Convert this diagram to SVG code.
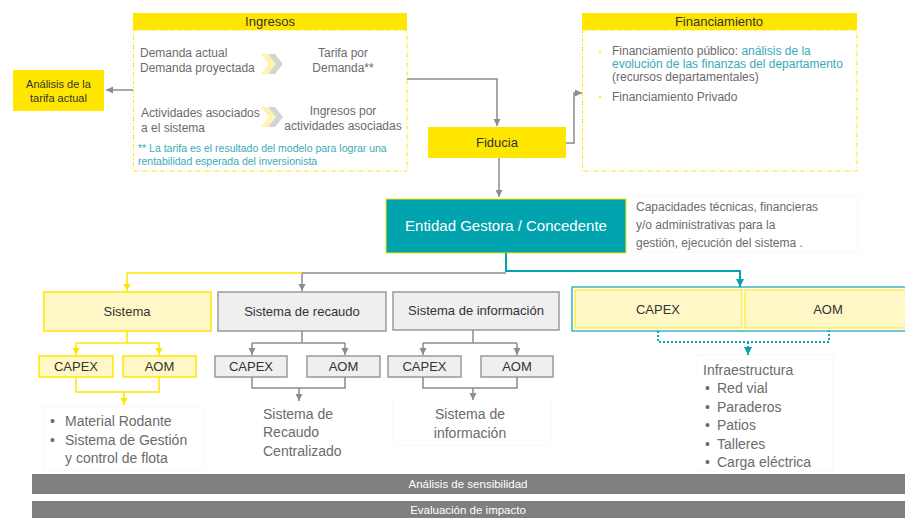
<svg xmlns="http://www.w3.org/2000/svg" width="905" height="518" viewBox="0 0 905 518">
<style>
text{font-family:"Liberation Sans",Arial,sans-serif;}
.g{fill:#6b6b6b;font-size:12px;}
.dk{fill:#333;}
.h{fill:#333;font-size:13px;text-anchor:middle;}
.note{fill:#3aaab8;font-size:10.5px;}
.big{fill:#6b6b6b;font-size:14px;}
.box-y{fill:#fff8c6;stroke:#ffe600;stroke-width:1.5;}
.box-g{fill:#efefef;stroke:#999;stroke-width:1.5;}
.sm{fill:#333;font-size:13px;text-anchor:middle;}
.cg{fill:none;stroke:#8c8c8c;stroke-width:1.5;}
.cy{fill:none;stroke:#ffe600;stroke-width:1.5;}
.ct{fill:none;stroke:#0aa0ad;stroke-width:2;}
.faint{fill:#fff;stroke:#f8f8f8;stroke-width:1;}
.bar{fill:#7f7f7f;}
.bt{fill:#fff;font-size:11.5px;text-anchor:middle;}
</style>
<defs>
<marker id="ag" markerUnits="userSpaceOnUse" markerWidth="8" markerHeight="8" refX="7" refY="4" orient="auto"><path d="M0,0.5 L7,4 L0,7.5 Z" fill="#8c8c8c"/></marker>
<marker id="ay" markerUnits="userSpaceOnUse" markerWidth="8" markerHeight="8" refX="7" refY="4" orient="auto"><path d="M0,0.5 L7,4 L0,7.5 Z" fill="#ffe600"/></marker>
<marker id="at" markerUnits="userSpaceOnUse" markerWidth="9" markerHeight="9" refX="8" refY="4.5" orient="auto"><path d="M0,0.5 L8,4.5 L0,8.5 Z" fill="#0aa0ad"/></marker>
</defs>

<g id="ingresos">
<rect x="133.5" y="30" width="273.5" height="141" fill="#fff" stroke="#ffe600" stroke-width="1" stroke-dasharray="4,2,1,2"/>
<rect x="133" y="13" width="274" height="17" fill="#ffe600"/>
<text x="270" y="26" class="h">Ingresos</text>
<text x="140" y="57" class="g">Demanda actual</text>
<text x="140" y="72" class="g">Demanda proyectada</text>
<polygon points="261,54 268,54 276,64 268,74 261,74 269,64" fill="#fff3b0"/>
<polygon points="268,54 275,54 283,64 275,74 268,74 276,64" fill="#d4d4d4"/>
<text x="343" y="57" class="g" text-anchor="middle">Tarifa por</text>
<text x="343" y="72" class="g" text-anchor="middle">Demanda**</text>
<text x="141" y="117" class="g">Actividades asociados</text>
<text x="141" y="132" class="g">a el sistema</text>
<polygon points="261,107 268,107 276,117 268,127 261,127 269,117" fill="#fff3b0"/>
<polygon points="268,107 275,107 283,117 275,127 268,127 276,117" fill="#d4d4d4"/>
<text x="343" y="115" class="g" text-anchor="middle">Ingresos por</text>
<text x="343" y="130" class="g" text-anchor="middle">actividades asociadas</text>
<text x="138" y="152" class="note">** La tarifa es el resultado del modelo para lograr una</text>
<text x="138" y="165" class="note">rentabilidad esperada del inversionista</text>
</g>

<g id="analisis">
<rect x="13" y="70" width="91" height="41" fill="#ffe600"/>
<text x="58.5" y="88" class="dk" font-size="11" text-anchor="middle">Análisis de la</text>
<text x="58.5" y="102" class="dk" font-size="11" text-anchor="middle">tarifa actual</text>
</g>

<g id="financiamiento">
<rect x="582.5" y="30" width="274.5" height="141" fill="#fff" stroke="#ffe600" stroke-width="1" stroke-dasharray="4,2,1,2"/>
<rect x="582" y="13" width="275" height="17" fill="#ffe600"/>
<text x="719" y="26" class="h">Financiamiento</text>
<circle cx="600" cy="52" r="1" fill="#ffe600"/>
<text x="612" y="55" class="g">Financiamiento público: <tspan fill="#3aaab8">análisis de la</tspan></text>
<text x="612" y="68" class="g" style="fill:#3aaab8">evolución de las finanzas del departamento</text>
<text x="612" y="81" class="g">(recursos departamentales)</text>
<circle cx="600" cy="97" r="1" fill="#ffe600"/>
<text x="612" y="101" class="g">Financiamiento Privado</text>
</g>

<g id="fiducia">
<rect x="428" y="127" width="138" height="31" fill="#ffe600"/>
<text x="497" y="147" class="h">Fiducia</text>
</g>

<g id="entidad">
<rect x="386" y="199" width="240" height="54" fill="#00a3ae" stroke="#ffe600" stroke-width="1"/>
<text x="506" y="231" fill="#fff" font-size="15" text-anchor="middle">Entidad Gestora / Concedente</text>
</g>

<g id="capacidades">
<rect x="632" y="196" width="226" height="56" class="faint"/>
<text x="636" y="211" class="g" font-size="12.5">Capacidades técnicas, financieras</text>
<text x="636" y="229" class="g" font-size="12.5">y/o administrativas para la</text>
<text x="636" y="247" class="g" font-size="12.5">gestión, ejecución del sistema .</text>
</g>

<g id="sistema">
<rect x="44" y="292" width="167" height="39" class="box-y"/>
<text x="127" y="316" class="sm">Sistema</text>
<rect x="39" y="356" width="74" height="21" class="box-y"/>
<text x="76" y="371" class="sm">CAPEX</text>
<rect x="123" y="356" width="73" height="21" class="box-y"/>
<text x="159.5" y="371" class="sm">AOM</text>
<rect x="44" y="407" width="159" height="63" class="faint"/>
<text x="50" y="426" class="big">•</text>
<text x="65" y="426" class="big">Material Rodante</text>
<text x="50" y="445" class="big">•</text>
<text x="65" y="445" class="big">Sistema de Gestión</text>
<text x="65" y="463" class="big">y control de flota</text>
</g>

<g id="recaudo">
<rect x="218" y="292" width="168" height="39" class="box-g"/>
<text x="302" y="316" class="sm">Sistema de recaudo</text>
<rect x="215" y="356" width="72" height="21" class="box-g"/>
<text x="251" y="371" class="sm">CAPEX</text>
<rect x="307" y="356" width="73" height="21" class="box-g"/>
<text x="343.5" y="371" class="sm">AOM</text>
<text x="263" y="419" class="big">Sistema de</text>
<text x="263" y="437" class="big">Recaudo</text>
<text x="263" y="456" class="big">Centralizado</text>
</g>

<g id="informacion">
<rect x="393" y="292" width="166" height="38" class="box-g"/>
<text x="476" y="315" class="sm">Sistema de información</text>
<rect x="388" y="356" width="73" height="21" class="box-g"/>
<text x="424.5" y="371" class="sm">CAPEX</text>
<rect x="481" y="356" width="72" height="21" class="box-g"/>
<text x="517" y="371" class="sm">AOM</text>
<rect x="393" y="400" width="158" height="45" class="faint"/>
<text x="470" y="419" class="big" text-anchor="middle">Sistema de</text>
<text x="470" y="438" class="big" text-anchor="middle">información</text>
</g>

<g id="infraestructura">
<rect x="572" y="287" width="340" height="44" fill="#fff" stroke="#3ab5c2" stroke-width="1.5"/>
<rect x="575" y="290" width="167" height="38" fill="#fff8c6" stroke="#ffe600" stroke-width="1"/>
<text x="658" y="314" class="sm">CAPEX</text>
<rect x="745" y="290" width="170" height="38" fill="#fff8c6" stroke="#ffe600" stroke-width="1"/>
<text x="828" y="314" class="sm">AOM</text>
<rect x="696" y="355" width="137" height="116" class="faint"/>
<text x="703" y="375" class="big">Infraestructura</text>
<text x="705" y="393" class="big">•</text><text x="717" y="393" class="big">Red vial</text>
<text x="705" y="412" class="big">•</text><text x="717" y="412" class="big">Paraderos</text>
<text x="705" y="430" class="big">•</text><text x="717" y="430" class="big">Patios</text>
<text x="705" y="449" class="big">•</text><text x="717" y="449" class="big">Talleres</text>
<text x="705" y="467" class="big">•</text><text x="717" y="467" class="big">Carga eléctrica</text>
</g>

<g id="sensibilidad">
<rect x="32" y="474" width="873" height="20" class="bar"/>
<text x="468" y="488" class="bt">Análisis de sensibilidad</text>
</g>
<g id="impacto">
<rect x="32" y="501" width="873" height="17" class="bar"/>
<text x="468" y="514" class="bt">Evaluación de impacto</text>
</g>

<g id="connectors">
<path d="M133,90 H106" class="cg" marker-end="url(#ag)"/>
<path d="M407,79 H497 V126" class="cg" marker-end="url(#ag)"/>
<path d="M566,143 H574 V93 H582" class="cg" marker-end="url(#ag)"/>
<path d="M499,158 V197" class="cg" marker-end="url(#ag)"/>
<path d="M506,273 H302 V291" class="cg" marker-end="url(#ag)"/>
<path d="M302,273 H127 V291" class="cy" marker-end="url(#ay)"/>
<path d="M506,253 V271 H740 V287" class="ct" marker-end="url(#at)"/>
<path d="M127,331 V343" class="cy"/>
<path d="M76,343 H159" class="cy"/>
<path d="M76,343 V355" class="cy" marker-end="url(#ay)"/>
<path d="M159,343 V355" class="cy" marker-end="url(#ay)"/>
<path d="M76,377 V392 H159 V377" class="cy"/>
<path d="M124,392 V405" class="cy" marker-end="url(#ay)"/>
<path d="M302,331 V343" class="cg"/>
<path d="M252,343 H345" class="cg"/>
<path d="M252,343 V355" class="cg" marker-end="url(#ag)"/>
<path d="M345,343 V355" class="cg" marker-end="url(#ag)"/>
<path d="M252,377 V388 H345 V377" class="cg"/>
<path d="M299,388 V401" class="cg" marker-end="url(#ag)"/>
<path d="M473,330 V343" class="cg"/>
<path d="M423,343 H517" class="cg"/>
<path d="M423,343 V355" class="cg" marker-end="url(#ag)"/>
<path d="M517,343 V355" class="cg" marker-end="url(#ag)"/>
<path d="M423,377 V388 H517 V377" class="cg"/>
<path d="M473,388 V400" class="cg" marker-end="url(#ag)"/>
<path d="M658,331 V342 H829 V331" fill="none" stroke="#0aa0ad" stroke-width="2" stroke-dasharray="2,2"/>
<path d="M748,342 V355" fill="none" stroke="#0aa0ad" stroke-width="2" stroke-dasharray="2,2" marker-end="url(#at)"/>
</g>
</svg>
